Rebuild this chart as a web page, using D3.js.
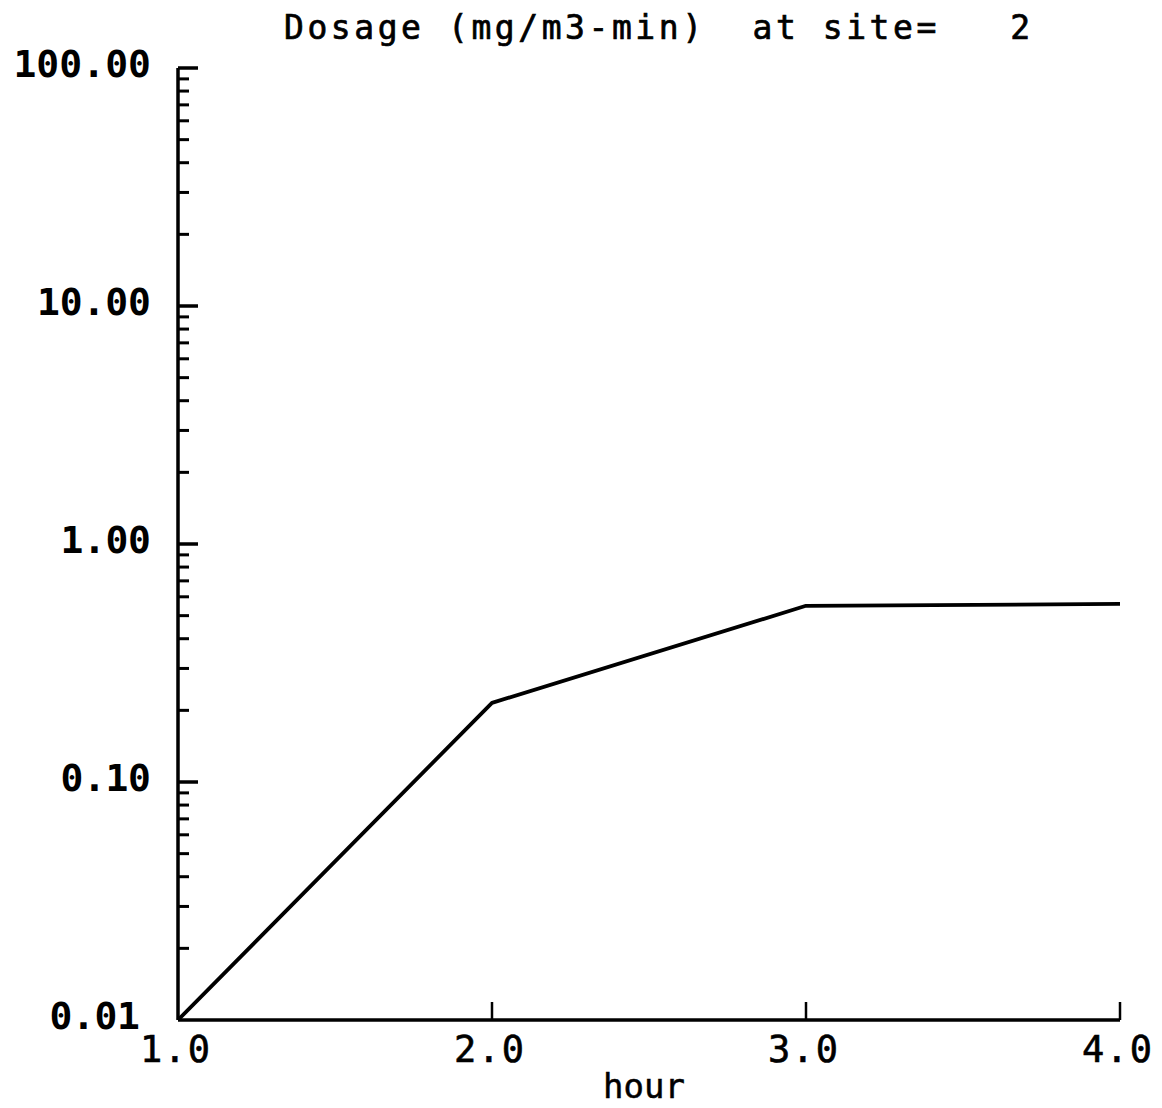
<!DOCTYPE html>
<html>
<head>
<meta charset="utf-8">
<script src="https://cdn.jsdelivr.net/npm/d3@7"></script>
<style>
  body { margin: 0; background: #fff; }
  text { font-family: "DejaVu Sans Mono", "Liberation Mono", monospace; fill: #000; }
</style>
</head>
<body>
<div id="chart"></div>
<script>
// data
const hours = [1, 2, 3, 4];
const dosage = [0.01, 0.215, 0.55, 0.56];
const xTicks = [1, 2, 3, 4];
const xTickLabels = ["1.0", "2.0", "3.0", "4.0"];
const yTicks = [0.01, 0.1, 1, 10, 100];
const yTickLabels = ["0.01", "0.10", "1.00", "10.00", "100.00"];
const title = "Dosage (mg/m3-min)  at site=   2";
const xTitle = "hour";

const width = 1162, height = 1108;

const svg = d3.select("#chart").append("svg")
  .attr("width", width)
  .attr("height", height);

let x = d3.scaleLinear().domain([1, 4]).range([178, 1120]);
let y = d3.scaleLog().domain([0.01, 100]).range([1020, 68]);

// minor ticks 2..9 in each decade
let minor = [];
for (let d = 0.01; d < 100; d *= 10) {
  for (let k = 2; k <= 9; k++) minor.push(+(d * k).toPrecision(3));
}

const g = svg.append("g");

// y axis line + ticks pointing inward
g.append("line")
  .attr("x1", x(1)).attr("x2", x(1))
  .attr("y1", y(100)).attr("y2", y(0.01))
  .attr("stroke", "#000").attr("stroke-width", 3.5);

g.selectAll("line.ymaj").data(yTicks.slice(1)).enter().append("line")
  .attr("class", "ymaj")
  .attr("x1", x(1)).attr("x2", x(1) + 20)
  .attr("y1", d => y(d)).attr("y2", d => y(d))
  .attr("stroke", "#000").attr("stroke-width", 3.5);

g.selectAll("line.ymin").data(minor).enter().append("line")
  .attr("class", "ymin")
  .attr("x1", x(1)).attr("x2", x(1) + 11)
  .attr("y1", d => y(d)).attr("y2", d => y(d))
  .attr("stroke", "#000").attr("stroke-width", 3);

// x axis line + ticks pointing up
g.append("line")
  .attr("x1", x(1)).attr("x2", x(4))
  .attr("y1", y(0.01)).attr("y2", y(0.01))
  .attr("stroke", "#000").attr("stroke-width", 3.5);

g.selectAll("line.xt").data(xTicks.slice(1)).enter().append("line")
  .attr("class", "xt")
  .attr("x1", d => x(d)).attr("x2", d => x(d))
  .attr("y1", y(0.01)).attr("y2", y(0.01) - 18)
  .attr("stroke", "#000").attr("stroke-width", 2.5);

// tick labels
g.selectAll("text.yl").data(yTicks).enter().append("text")
  .attr("class", "yl")
  .attr("x", (d, i) => i === 0 ? 140 : 151)
  .attr("y", d => y(d) + 9)
  .attr("text-anchor", "end")
  .attr("font-size", 38)
  .attr("font-weight", "bold")
  .text((d, i) => yTickLabels[i])
  .attr("textLength", (d, i) => yTickLabels[i].length * 23.6 - 4)
  .attr("lengthAdjust", "spacing");

g.selectAll("text.xl").data(xTicks).enter().append("text")
  .attr("class", "xl")
  .attr("x", d => x(d) - 3)
  .attr("y", y(0.01) + 42)
  .attr("text-anchor", "middle")
  .attr("font-size", 37)
  .attr("stroke", "#000").attr("stroke-width", 0.6)
  .text((d, i) => xTickLabels[i])
  .attr("textLength", 70)
  .attr("lengthAdjust", "spacing");

// titles
svg.append("text")
  .attr("x", 284).attr("y", 39)
  .attr("font-size", 33)
  .attr("stroke", "#000").attr("stroke-width", 0.7)
  .attr("textLength", 746)
  .attr("lengthAdjust", "spacing")
  .attr("xml:space", "preserve")
  .style("white-space", "pre")
  .text(title);

svg.append("text")
  .attr("x", 644).attr("y", 1098)
  .attr("text-anchor", "middle")
  .attr("font-size", 34)
  .attr("stroke", "#000").attr("stroke-width", 0.5)
  .text(xTitle);

// data line
let line = d3.line()
  .x((d, i) => x(hours[i]))
  .y(d => y(d));

svg.append("path")
  .datum(dosage)
  .attr("fill", "none")
  .attr("stroke", "#000")
  .attr("stroke-width", 3.8)
  .attr("stroke-linejoin", "round")
  .attr("d", line);
</script>
</body>
</html>
